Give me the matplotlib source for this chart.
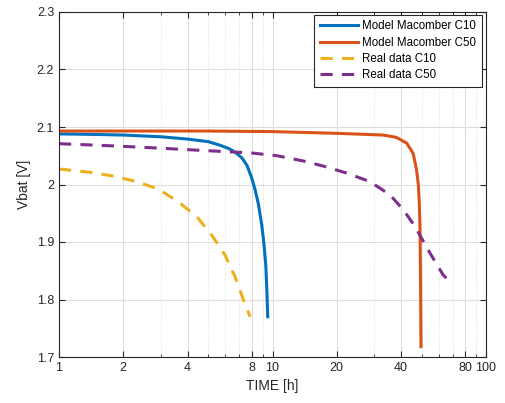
import numpy as np
import matplotlib.pyplot as plt
from matplotlib.ticker import FixedLocator, NullFormatter

plt.rcParams['font.family'] = ['Liberation Sans', 'DejaVu Sans']

# Model Macomber C10
t_model_c10 = [1, 1.5, 2, 3, 4, 5, 5.6, 6.2, 6.7, 7.2, 7.6, 8.0, 8.3, 8.6, 8.9, 9.1, 9.3, 9.4, 9.5]
v_model_c10 = [2.088, 2.087, 2.086, 2.083, 2.079, 2.0745, 2.069, 2.063, 2.056, 2.046, 2.033, 2.011, 1.99,
               1.965, 1.93, 1.90, 1.86, 1.82, 1.770]

# Model Macomber C50
t_model_c50 = [1, 5, 10, 20, 33, 38, 42.5, 45.6, 47.3, 48.2, 48.7, 49.1, 49.4, 49.6]
v_model_c50 = [2.093, 2.093, 2.092, 2.089, 2.086, 2.082, 2.072, 2.054, 2.025, 2.0, 1.968, 1.921, 1.82, 1.718]

# Real data C10
t_real_c10 = [1, 1.42, 1.83, 2.31, 2.92, 3.62, 4.42, 5.19, 6.0, 6.67, 7.3, 7.85]
v_real_c10 = [2.027, 2.021, 2.014, 2.005, 1.992, 1.970, 1.944, 1.912, 1.877, 1.840, 1.800, 1.770]

# Real data C50
t_real_c50 = [1, 1.83, 3.03, 4.83, 7.9, 10.5, 13.9, 17.3, 22.2, 28.6, 35.5, 41, 46.5, 54.6, 62.9, 65.6]
v_real_c50 = [2.071, 2.067, 2.063, 2.059, 2.055, 2.050, 2.041, 2.032, 2.020, 2.005, 1.982, 1.956, 1.927,
              1.881, 1.843, 1.836]

x_ticks = [1, 2, 4, 8, 10, 20, 40, 80, 100]
y_ticks = [1.7, 1.8, 1.9, 2.0, 2.1, 2.2, 2.3]
y_tick_labels = ['1.7', '1.8', '1.9', '2', '2.1', '2.2', '2.3']

fig = plt.figure(figsize=(5.05, 4.03), dpi=100)
ax = fig.add_axes([59 / 505, 1 - 357 / 403, 427 / 505, 345 / 403])

ax.plot(t_model_c10, v_model_c10, color='#0072BD', lw=2.2, label='Model Macomber C10')
ax.plot(t_model_c50, v_model_c50, color='#D95319', lw=2.2, label='Model Macomber C50')
ax.plot(t_real_c10, v_real_c10, color='#EDB120', lw=2.2, dashes=(4, 3), label='Real data C10')
ax.plot(t_real_c50, v_real_c50, color='#7E2F8E', lw=2.2, dashes=(4, 3), label='Real data C50')

ax.set_xscale('log')
ax.set_xlim(1, 100)
ax.set_ylim(1.7, 2.3)

minor = [m * d for d in (1, 10) for m in range(2, 10) if m * d not in x_ticks]
ax.xaxis.set_major_locator(FixedLocator(x_ticks))
ax.xaxis.set_minor_locator(FixedLocator(minor))
ax.xaxis.set_minor_formatter(NullFormatter())
ax.set_xticklabels([str(v) for v in x_ticks])
ax.set_yticks(y_ticks)
ax.set_yticklabels(y_tick_labels)

ax.grid(True, which='major', color='#dedede', lw=0.8)
ax.grid(True, which='minor', axis='x', color='#d0d0d0', lw=0.6, ls=(0, (1, 2)))
ax.set_axisbelow(True)

ax.tick_params(which='both', direction='in', top=True, right=True, colors='#262626',
               labelsize=9, length=4)
ax.tick_params(which='minor', length=2)
for s in ax.spines.values():
    s.set_color('#262626')
    s.set_linewidth(0.8)

ax.set_xlabel('TIME [h]', fontsize=10, color='#262626')
ax.set_ylabel('Vbat [V]', fontsize=10, color='#262626')

leg = ax.legend(loc='upper right', fontsize=8.3, frameon=True, fancybox=False,
                edgecolor='#262626', framealpha=1, handlelength=3.3,
                borderpad=0.45, labelspacing=0.38, handletextpad=0.4,
                borderaxespad=0, bbox_to_anchor=(0.9895, 0.9913))
leg.get_frame().set_linewidth(0.8)

plt.savefig('out.png', dpi=100)
